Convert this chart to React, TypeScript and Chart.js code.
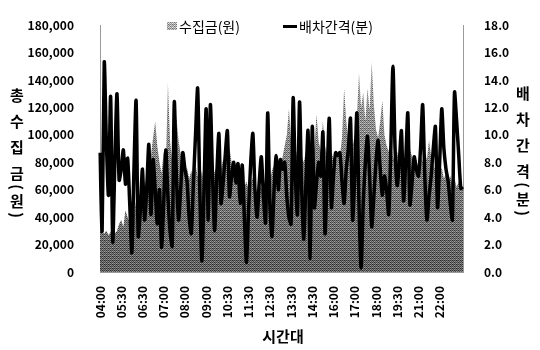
import React, { useEffect, useRef } from 'react';
import { Chart, registerables } from 'chart.js';

Chart.register(...registerables);

// Departure-time labels shown every 10th run on the time axis
const tickLabels = [
  '04:00', '05:30', '06:30', '07:00', '08:00', '09:00', '10:30', '11:30', '12:30',
  '13:30', '14:30', '16:00', '17:00', '18:00', '19:30', '21:00', '22:00',
];
const labelEvery = 10;

// Fare collection per run (won)
const collection = [
  30000, 29000, 28000, 30000, 27000, 29000, 31000, 28000, 30000, 35000,
  38000, 33000, 45000, 40000, 36000, 48000, 42000, 52000, 45000, 58000,
  55000, 62000, 70000, 64000, 85000, 98000, 110000, 92000, 80000, 72000,
  88000, 76000, 138000, 95000, 82000, 100000, 113000, 96000, 86000, 88000,
  72000, 76000, 68000, 74000, 65000, 78000, 70000, 66000, 74000, 62000,
  70000, 76000, 68000, 80000, 72000, 78000, 70000, 75000, 82000, 76000,
  84000, 90000, 80000, 72000, 68000, 74000, 64000, 70000, 62000, 66000,
  60000, 64000, 69000, 62000, 58000, 66000, 60000, 68000, 63000, 70000,
  66000, 74000, 78000, 72000, 80000, 76000, 84000, 92000, 100000, 119000,
  96000, 88000, 82000, 90000, 78000, 84000, 80000, 88000, 92000, 84000,
  98000, 90000, 115000, 95000, 88000, 110000, 92000, 84000, 80000, 88000,
  82000, 78000, 87000, 84000, 98000, 134000, 110000, 96000, 104000, 92000,
  100000, 112000, 145000, 120000, 131000, 110000, 134000, 118000, 153000, 122000,
  104000, 98000, 110000, 125000, 100000, 92000, 88000, 95000, 84000, 80000,
  88000, 78000, 82000, 76000, 86000, 80000, 90000, 84000, 78000, 82000,
  76000, 86000, 80000, 88000, 82000, 96000, 84000, 78000, 74000, 80000,
  72000, 76000, 68000, 72000, 66000, 70000, 64000, 68000, 62000, 66000,
  60000, 62000,
];

// Headway between consecutive runs (minutes)
const headway = [
  8.7, 3.0, 15.3, 9.5, 5.6, 12.8, 2.2, 8.0, 13.0, 6.7,
  7.5, 8.9, 6.4, 8.3, 5.0, 1.4, 7.5, 12.5, 2.6, 4.5,
  7.5, 3.8, 6.0, 9.3, 4.2, 8.2, 6.0, 3.5, 6.0, 1.8,
  5.0, 8.9, 5.5, 3.0, 1.9, 12.4, 7.0, 3.8, 6.0, 8.7,
  7.5, 6.6, 4.0, 2.8, 6.5, 10.0, 13.4, 6.0, 0.8, 6.0,
  11.9, 3.8, 12.2, 7.0, 3.0, 7.0, 10.1, 5.0, 6.5, 8.5,
  10.3, 5.5, 7.0, 8.0, 6.5, 7.9, 5.0, 7.8, 4.0, 0.7,
  4.5, 8.0, 10.1, 6.0, 4.0, 6.5, 8.4, 5.5, 3.6, 11.6,
  5.0, 2.6, 6.0, 8.5, 6.0, 8.2, 7.5, 8.0, 5.5, 4.0,
  3.5, 12.7, 7.0, 4.2, 12.4, 6.0, 2.4, 6.5, 10.3, 1.0,
  10.6, 4.7, 6.5, 8.0, 7.0, 10.2, 2.8, 7.0, 11.2, 4.7,
  7.0, 8.7, 8.5, 8.7, 6.6, 5.0, 7.5, 9.0, 11.2, 3.8,
  7.0, 11.6, 5.0, 0.3, 5.0, 8.0, 9.9, 7.0, 3.3, 5.5,
  8.0, 9.6, 7.5, 5.6, 7.0, 6.0, 4.2, 9.0, 15.0, 9.0,
  6.3, 8.0, 10.3, 5.2, 8.0, 11.6, 4.9, 6.5, 8.4, 7.5,
  7.0, 9.0, 12.2, 7.0, 3.8, 5.5, 7.0, 9.0, 10.6, 4.7,
  8.0, 11.9, 9.0, 7.5, 6.6, 5.0, 3.8, 13.1, 11.0, 8.5,
  6.1, 6.2,
];

const seriesNames = ['수집금(원)', '배차간격(분)'];
const leftTitle = '총 수 집 금(원)';
const rightTitle = '배 차 간 격(분)';
const xTitle = '시간대';

const FONT = '"Noto Sans CJK KR", "Noto Sans", sans-serif';

// Grainy grey fill, lighter toward the top and darker near the baseline
function makeGrainFill(ctx: CanvasRenderingContext2D, h: number) {
  const w = 4;
  const pc = document.createElement('canvas');
  pc.width = w;
  pc.height = h;
  const pctx = pc.getContext('2d')!;
  const img = pctx.createImageData(w, h);
  const bayer = [
    [0, 8, 2, 10],
    [12, 4, 14, 6],
    [3, 11, 1, 9],
    [15, 7, 13, 5],
  ];
  for (let y = 0; y < h; y++) {
    const t = Math.min(1, Math.max(0, (y - 15) / 257));
    const base = 175 - 80 * t;
    for (let x = 0; x < w; x++) {
      const d = (bayer[y % 4][x] / 15 - 0.5) * 130;
      const v = Math.max(0, Math.min(255, Math.round(base + d)));
      const i = (y * w + x) * 4;
      img.data[i] = v;
      img.data[i + 1] = v;
      img.data[i + 2] = v;
      img.data[i + 3] = 255;
    }
  }
  pctx.putImageData(img, 0, 0);
  return ctx.createPattern(pc, 'repeat')!;
}

function drawStacked(ctx: CanvasRenderingContext2D, text: string, cx: number, top: number) {
  // vertical stacked text: a space widens the gap, brackets are turned sideways
  let y = top;
  for (const ch of text) {
    if (ch === ' ') {
      y += 12;
      continue;
    }
    if (ch === '(' || ch === ')') {
      ctx.save();
      ctx.translate(cx, y);
      ctx.rotate(Math.PI / 2);
      ctx.fillText(ch, 0, 0);
      ctx.restore();
      y += 14;
    } else {
      ctx.fillText(ch, cx, y);
      y += 14;
    }
  }
}

export default function App() {
  const ref = useRef<HTMLCanvasElement>(null);

  useEffect(() => {
    const canvas = ref.current!;
    const ctx = canvas.getContext('2d')!;
    const grain = makeGrainFill(ctx, 350);

    const labels = collection.map((_, i) =>
      i % labelEvery === 0 && tickLabels[i / labelEvery] ? tickLabels[i / labelEvery] : ''
    );

    const overlay = {
      id: 'overlay',
      afterDraw(chart: Chart) {
        const c = chart.ctx;
        c.save();
        c.fillStyle = '#000';
        c.textAlign = 'center';
        c.textBaseline = 'middle';
        c.font = `bold 15px ${FONT}`;
        drawStacked(c, leftTitle, 17, 95);
        drawStacked(c, rightTitle, 523, 93);
        c.fillText(xTitle, 283, 336);

        // legend
        c.font = `14px ${FONT}`;
        c.textAlign = 'left';
        c.fillStyle = grain;
        c.fillRect(167, 22, 10, 8);
        c.fillStyle = '#000';
        c.fillText(seriesNames[0], 179, 27);
        c.fillRect(283, 25, 14, 3);
        c.fillText(seriesNames[1], 299, 27);
        c.restore();
      },
    };

    const tickFont = { family: FONT, size: 12, weight: 'bold' as const };

    const chart = new Chart(canvas, {
      type: 'line',
      data: {
        labels,
        datasets: [
          {
            label: seriesNames[0],
            data: collection,
            yAxisID: 'y',
            fill: 'origin',
            backgroundColor: grain,
            borderWidth: 0,
            pointRadius: 0,
            tension: 0,
            order: 2,
          },
          {
            label: seriesNames[1],
            data: headway,
            yAxisID: 'y1',
            fill: false,
            borderColor: '#000',
            borderWidth: 3.5,
            pointRadius: 0,
            tension: 0.25,
            order: 1,
          },
        ],
      },
      options: {
        animation: false,
        responsive: false,
        maintainAspectRatio: false,
        layout: { padding: { top: 15, left: 0, right: 0, bottom: 0 } },
        plugins: { legend: { display: false }, tooltip: { enabled: false } },
        scales: {
          x: {
            type: 'category',
            offset: false,
            grid: { display: false },
            border: { display: true, color: '#9a9a9a', dash: [1, 1] },
            ticks: {
              autoSkip: false,
              minRotation: 90,
              maxRotation: 90,
              padding: 6,
              color: '#000',
              font: tickFont,
              callback: (_v: any, i: number) => (labels[i] ? labels[i] : null),
            },
            afterFit: (s: any) => {
              s.height = 78;
            },
          },
          y: {
            position: 'left',
            min: 0,
            max: 180000,
            grid: { display: false },
            border: { display: true, color: '#9a9a9a', dash: [1, 1] },
            ticks: {
              stepSize: 20000,
              padding: 18,
              color: '#000',
              font: tickFont,
              callback: (v: any) => Number(v).toLocaleString('en-US'),
            },
            afterFit: (s: any) => {
              s.width = 100;
            },
          },
          y1: {
            position: 'right',
            min: 0,
            max: 18,
            grid: { display: false },
            border: { display: true, color: '#9a9a9a', dash: [1, 1] },
            ticks: {
              stepSize: 2,
              padding: 13,
              color: '#000',
              font: tickFont,
              callback: (v: any) => Number(v).toFixed(1),
            },
            afterFit: (s: any) => {
              s.width = 77;
            },
          },
        },
      },
      plugins: [overlay],
    });

    return () => chart.destroy();
  }, []);

  return (
    <div style={{ position: 'fixed', left: 0, top: 0, width: 540, height: 350, background: '#fff' }}>
      <canvas ref={ref} width={540} height={350} style={{ display: 'block' }} />
    </div>
  );
}
